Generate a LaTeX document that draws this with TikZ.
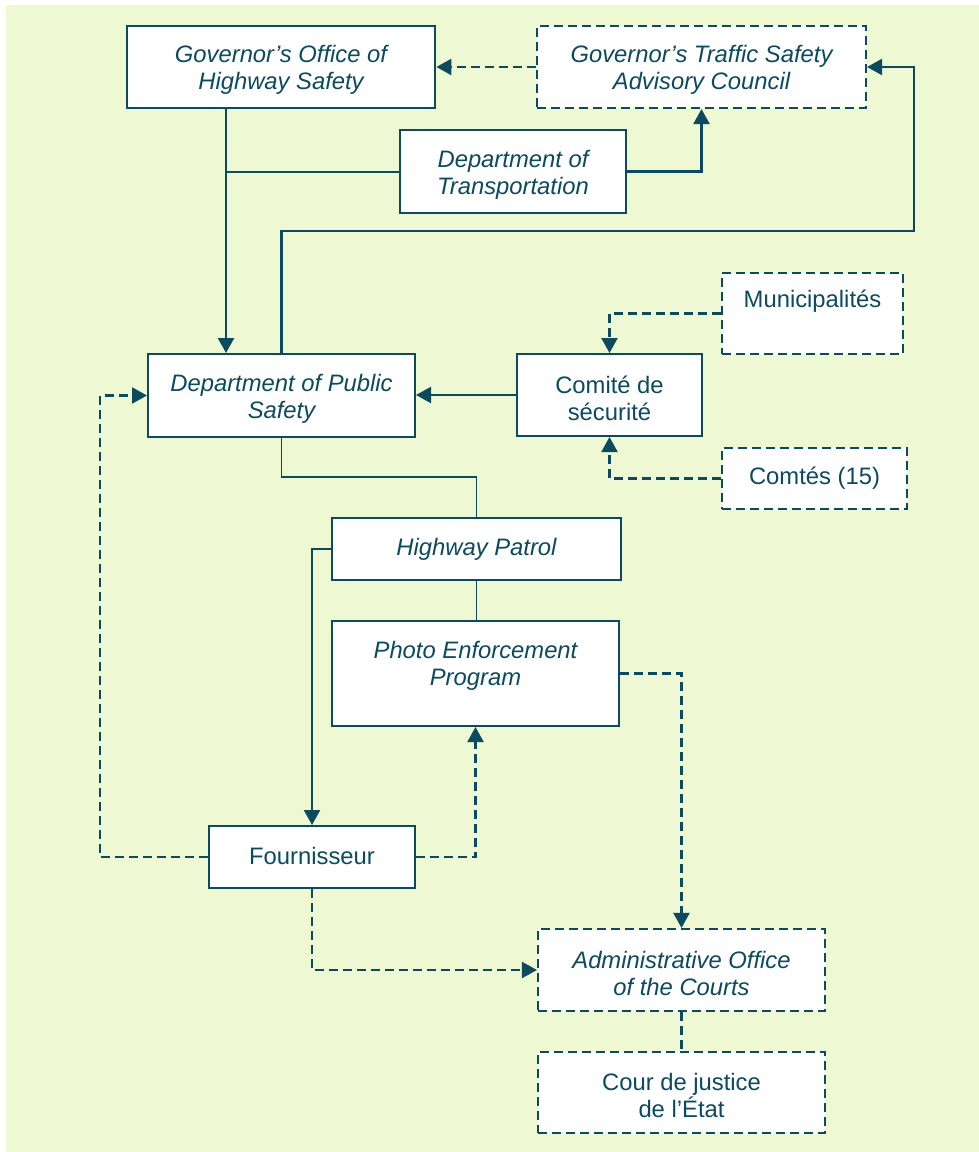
\documentclass[tikz,border=0pt]{standalone}
\usepackage{fontspec}
\setmainfont{Liberation Sans}
\usetikzlibrary{arrows.meta}
\definecolor{ink}{HTML}{0B4A5F}
\definecolor{paper}{HTML}{EEF9D4}

\begin{document}
\begin{tikzpicture}[x=1pt,y=-1pt,
  txt/.style={text=ink, align=center, font=\fontsize{23.8}{27}\selectfont},
  itxt/.style={txt, font=\fontsize{23.8}{27}\selectfont\itshape},
  box/.style={draw=ink, fill=white, line width=2pt, inner sep=0pt, txt},
  dbox/.style={box, line width=2.1pt, dash pattern=on 9pt off 5pt},
  % captions placed at the box centre, nudged by the given shift
  say/.style 2 args={label={[txt, anchor=center, yshift=#2]center:#1}},
  isay/.style 2 args={label={[itxt, anchor=center, yshift=#2]center:#1}},
  tip/.style={-{Triangle[length=15pt,width=16pt]}},
  link/.style={draw=ink, line width=2.3pt, tip},
  dlink/.style={draw=ink, line width=2.1pt, dash pattern=on 9pt off 5pt, tip},
  dline/.style={draw=ink, line width=2.1pt, dash pattern=on 9pt off 5pt},
  tie/.style={draw=ink, line width=2pt},
  fine/.style={draw=ink, line width=1.6pt},
]
\useasboundingbox (0,0) rectangle (979,1152);
\fill[paper] (6,5) rectangle (979,1152);

% organisations
\node[box, line width=2.7pt, minimum width=308pt, minimum height=82pt,
      isay={Governor’s Office of\\Highway Safety}{-3pt}] (gohs) at (281,67) {};
\node[dbox, minimum width=329pt, minimum height=82pt,
      isay={Governor’s Traffic Safety\\Advisory Council}{-3pt}] (gtsac) at (701.5,67) {};
\node[box, minimum width=226pt, minimum height=83pt,
      isay={Department of\\Transportation}{-3pt}] (dot) at (513,171.5) {};
\node[box, minimum width=267pt, minimum height=83pt,
      isay={Department of Public\\Safety}{-3pt}] (dps) at (281.5,395.5) {};
\node[box, minimum width=185pt, minimum height=82pt,
      say={Comité de\\sécurité}{-3pt}] (com) at (609.5,395) {};
\node[dbox, minimum width=181pt, minimum height=81pt,
      say={Municipalités}{12pt}] (mun) at (812.5,313.5) {};
\node[dbox, minimum width=185pt, minimum height=61pt,
      say={Comtés (15)}{0pt}] (cty) at (814.5,478.5) {};
\node[box, minimum width=289pt, minimum height=62pt,
      isay={Highway Patrol}{0pt}] (hp) at (476.5,549) {};
\node[box, minimum width=287pt, minimum height=105pt,
      isay={Photo Enforcement\\Program}{8pt}] (pep) at (475.5,673.5) {};
\node[box, minimum width=206pt, minimum height=62pt,
      say={Fournisseur}{1pt}] (fou) at (312,857) {};
\node[dbox, minimum width=287pt, minimum height=82pt,
      isay={Administrative Office\\of the Courts}{-3pt}] (aoc) at (681.5,970) {};
\node[dbox, minimum width=287pt, minimum height=81pt,
      say={Cour de justice\\de l’État}{-3pt}] (cour) at (681.5,1092.5) {};

% routing points
\coordinate (spine) at (226,0);
\coordinate (loop) at (914,231);
\coordinate (tee) at (0,477);
\coordinate (rail) at (100,0);

% connectors
\draw[dlink] (gtsac.west) -- (gohs.east);
\draw[link] (gohs.south -| spine) -- (dps.north -| spine);
\draw[tie] (dot.west) -- (dot.west -| spine);
\draw[link] (dot.east) -| (gtsac.south);
\draw[link] (dps.north) |- (loop) |- (gtsac.east);
\draw[link] (com.west) -- (dps.east |- com.west);
\draw[dlink] (mun.west) -| (com.north);
\draw[dlink] (cty.west) -| (com.south);
\draw[fine] (dps.south) -- (dps.south |- tee) -| (hp.north);
\draw[fine] (hp.south) -- (hp.south |- pep.north);
\draw[link] (hp.west) -| (fou.north);
\draw[dlink] (fou.west) -- (fou.west -| rail) |- (dps.west);
\draw[dlink] (fou.east) -| (pep.south);
\draw[dlink] (fou.south) |- (aoc.west);
\draw[dlink] (pep.east) -| (aoc.north);
\draw[dline] (aoc.south) -- (cour.north);
\end{tikzpicture}
\end{document}
